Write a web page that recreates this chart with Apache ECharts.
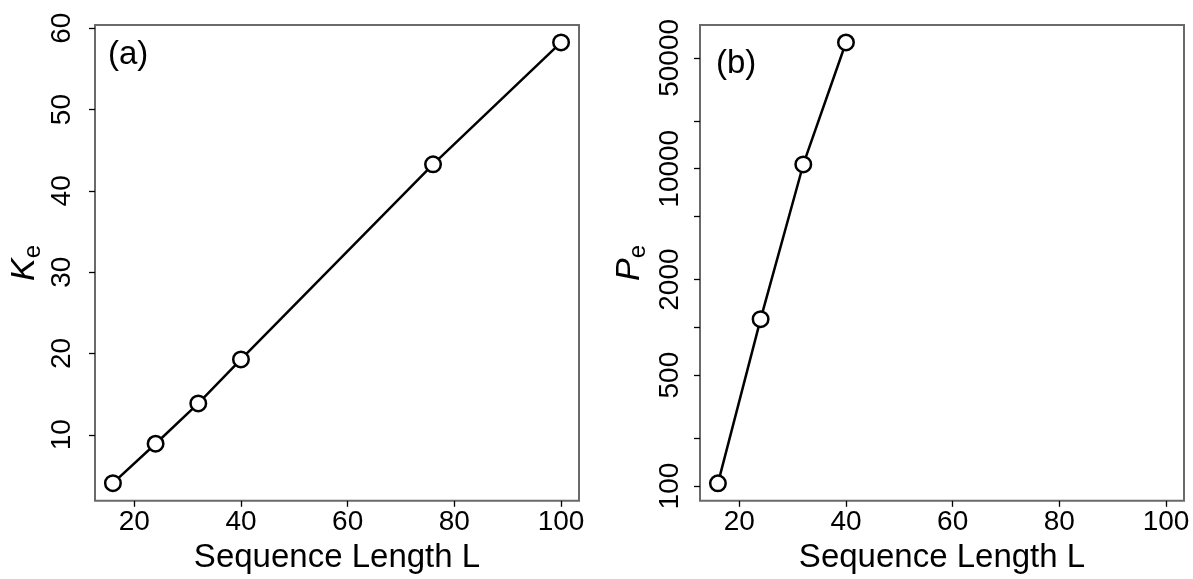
<!DOCTYPE html>
<html>
<head>
<meta charset="utf-8">
<script src="https://cdn.jsdelivr.net/npm/echarts@6/dist/echarts.min.js"></script>
<style>
html,body{margin:0;padding:0;background:#fff;}
#chart{width:1193px;height:579px;}
</style>
</head>
<body>
<div id="chart"></div>
<script>
// ---- data ----
const lengthsA = [16, 24, 32, 40, 76, 100];
const kValues = [4.05, 8.9, 13.86, 19.27, 43.26, 58.26];
const lengthsB = [16, 24, 32, 40];
const pValues = [104, 1127, 10640, 62500];
const xTicks = [20, 40, 60, 80, 100];
const kTicks = [10, 20, 30, 40, 50, 60];
const pTicks = [100, 200, 500, 1000, 2000, 5000, 10000, 20000, 50000];
const pLabels = [100, 500, 2000, 10000, 50000];
const xTitle = 'Sequence Length L';
const panelLabels = ['(a)', '(b)'];

const FONT = 'Liberation Sans, Arial, sans-serif';
const chart = echarts.init(document.getElementById('chart'), null, {renderer: 'canvas'});
const plain = v => String(Math.round(v));

function xAxisCfg(gridIndex) {
  return {
    type: 'value', gridIndex: gridIndex, min: 12.64, max: 103.36,
    name: xTitle, nameLocation: 'middle', nameGap: 35,
    nameTextStyle: {fontFamily: FONT, fontSize: 33, color: '#000'},
    axisLine: {show: false},
    axisTick: {show: true, inside: false, length: 6, customValues: xTicks, lineStyle: {color: '#000', width: 1.3}},
    axisLabel: {show: true, margin: 7.3, customValues: xTicks, formatter: plain, fontFamily: FONT, fontSize: 28, color: '#000'},
    splitLine: {show: false}
  };
}

function seriesCfg(xi, yi, data) {
  return {
    type: 'line', xAxisIndex: xi, yAxisIndex: yi, data: data,
    symbol: 'circle', symbolSize: 15.5, clip: false,
    itemStyle: {color: '#fff', borderColor: '#000', borderWidth: 2.5},
    lineStyle: {color: '#000', width: 2.5},
    emphasis: {disabled: true}
  };
}

function nameRich() {
  return {
    fontFamily: FONT, color: '#000',
    rich: {
      k: {fontFamily: FONT, fontSize: 34, fontStyle: 'italic', lineHeight: 40, color: '#000'},
      s: {fontFamily: FONT, fontSize: 24, lineHeight: 16, verticalAlign: 'bottom', color: '#000'}
    }
  };
}

const option = {
  animation: false,
  backgroundColor: '#fff',
  title: [
    {text: panelLabels[0], left: 108, top: 38, padding: 0, textStyle: {fontFamily: FONT, fontSize: 33, fontWeight: 'normal', color: '#000'}},
    {text: panelLabels[1], left: 716, top: 47, padding: 0, textStyle: {fontFamily: FONT, fontSize: 33, fontWeight: 'normal', color: '#000'}}
  ],
  grid: [
    {left: 95, top: 25, width: 484, height: 484, show: true, borderColor: '#6a6a6a', borderWidth: 2, backgroundColor: 'transparent'},
    {left: 700, top: 25, width: 484, height: 484, show: true, borderColor: '#6a6a6a', borderWidth: 2, backgroundColor: 'transparent'}
  ],
  xAxis: [xAxisCfg(0), xAxisCfg(1)],
  yAxis: [
    {
      type: 'value', gridIndex: 0, min: 1.88, max: 60.4,
      name: '{k|K}{s|e}', nameLocation: 'middle', nameGap: 50, nameRotate: 90,
      nameTextStyle: nameRich(),
      axisLine: {show: false},
      axisTick: {show: true, inside: false, length: 6, customValues: kTicks, lineStyle: {color: '#000', width: 1.3}},
      axisLabel: {show: true, rotate: 90, margin: 18.7, customValues: kTicks, formatter: plain, fontFamily: FONT, fontSize: 28, color: '#000'},
      splitLine: {show: false}
    },
    {
      type: 'log', logBase: 10, gridIndex: 1, min: 80.7, max: 80540,
      name: '{k|P}{s|e}', nameLocation: 'middle', nameGap: 50, nameRotate: 90,
      nameTextStyle: nameRich(),
      axisLine: {show: false},
      axisTick: {show: true, inside: false, length: 6, customValues: pTicks, lineStyle: {color: '#000', width: 1.3}},
      axisLabel: {show: true, rotate: 90, margin: 15.7, customValues: pLabels, formatter: plain, fontFamily: FONT, fontSize: 28, color: '#000'},
      minorTick: {show: false},
      splitLine: {show: false}
    }
  ],
  series: [
    seriesCfg(0, 0, lengthsA.map((x, i) => [x, kValues[i]])),
    seriesCfg(1, 1, lengthsB.map((x, i) => [x, pValues[i]]))
  ]
};
chart.setOption(option);
</script>
</body>
</html>
